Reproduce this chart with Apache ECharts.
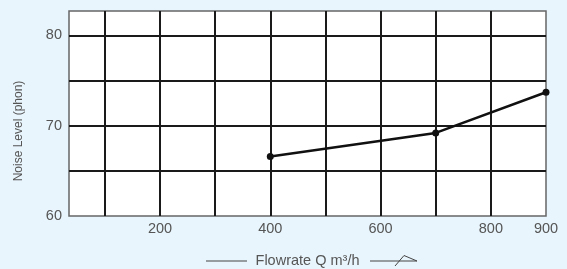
<!DOCTYPE html>
<html lang="en">
<head>
    <meta charset="UTF-8">
    <title>Noise level vs flowrate</title>
    <style>
        html, body { margin: 0; padding: 0; background: #e8f5fc; }
    </style>
</head>
<body>
<div id="main" style="width: 567px;height:269px;"></div>
<script type="text/javascript" src="https://cdn.jsdelivr.net/npm/echarts@6/dist/echarts.min.js"></script>
<script type="text/javascript">
    // data
    var flowrate = [400, 700, 900];
    var noise = [66.6, 69.2, 73.7];
    var xGridValues = [100, 200, 300, 400, 500, 600, 700, 800];
    var xLabelValues = [200, 400, 600, 800, 900];
    var yGridValues = [65, 70, 75, 80];
    var yLabelValues = [60, 70, 80];

    var textColor = '#555';
    var font = '"Liberation Sans", Arial, sans-serif';

    var myChart = echarts.init(document.getElementById('main'));
    var option = {
        backgroundColor: '#e8f5fc',
        animation: false,
        grid: {
            left: 69, right: 21, top: 11, bottom: 53,
            outerBoundsMode: 'none',
            containLabel: false,
            show: true,
            backgroundColor: '#fff',
            borderColor: '#666',
            borderWidth: 1.5
        },
        xAxis: {
            type: 'value',
            min: 35,
            max: 900,
            name: 'Flowrate Q m³/h',
            nameLocation: 'middle',
            nameGap: 37,
            nameTextStyle: { color: textColor, fontSize: 14.5, fontFamily: font },
            axisLine: { show: false },
            axisTick: { show: false, customValues: xGridValues },
            axisLabel: {
                customValues: xLabelValues,
                color: textColor, fontSize: 14.5, fontFamily: font, margin: 5
            },
            splitLine: { show: true, lineStyle: { color: '#1a1a1a', width: 2 } }
        },
        yAxis: {
            type: 'value',
            min: 60,
            max: 82.7,
            axisLine: { show: false },
            axisTick: { show: false, customValues: yGridValues },
            axisLabel: {
                customValues: yLabelValues,
                color: textColor, fontSize: 14.5, fontFamily: font, margin: 7
            },
            splitLine: { show: true, lineStyle: { color: '#1a1a1a', width: 2 } }
        },
        graphic: [
            {
                type: 'text', x: 19, y: 131, rotation: Math.PI / 2,
                style: {
                    text: 'Noise Level (phon)', fill: textColor,
                    font: '12px ' + font, align: 'center', verticalAlign: 'middle'
                }
            },
            {
                type: 'line', shape: { x1: 206, y1: 261, x2: 247, y2: 261 },
                style: { stroke: '#444', lineWidth: 1 }
            },
            {
                type: 'line', shape: { x1: 370, y1: 261, x2: 417, y2: 261 },
                style: { stroke: '#444', lineWidth: 1 }
            },
            {
                type: 'polyline', shape: { points: [[395, 266], [404, 255.5], [417, 261]] },
                style: { stroke: '#444', lineWidth: 1, fill: null }
            }
        ],
        series: [{
            type: 'line',
            data: flowrate.map(function (q, i) { return [q, noise[i]]; }),
            symbol: 'circle',
            symbolSize: 7,
            itemStyle: { color: '#111' },
            lineStyle: { color: '#111', width: 2.5 }
        }]
    };
    myChart.setOption(option);
</script>
</body>
</html>
